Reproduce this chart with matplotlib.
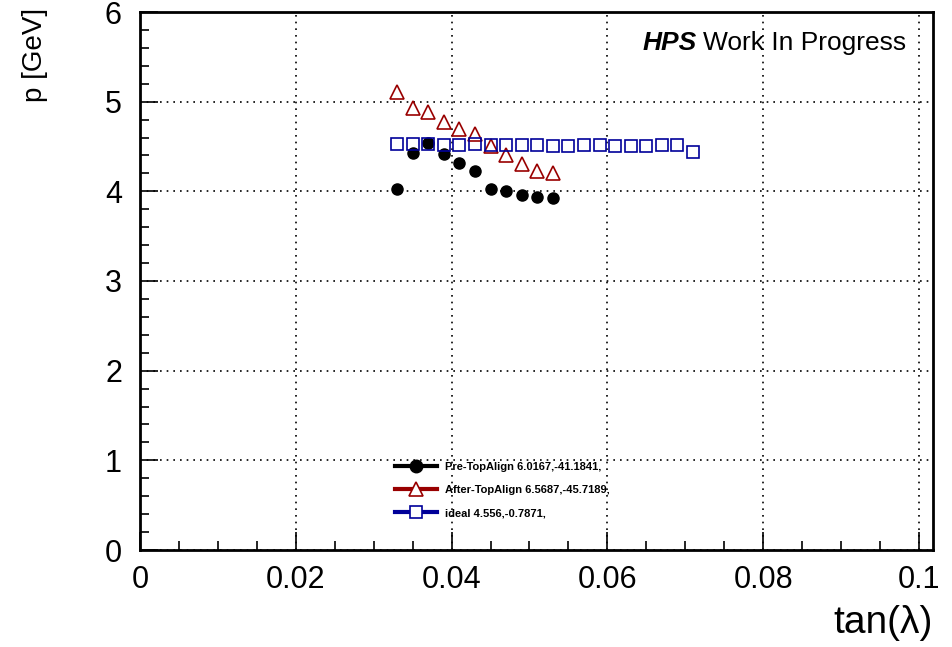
import matplotlib
matplotlib.use("Agg")
import matplotlib.pyplot as plt
from matplotlib.lines import Line2D
from matplotlib.ticker import MultipleLocator

plt.rcParams['font.family'] = ['Liberation Sans', 'DejaVu Sans']

# Data
x_pre = [0.033, 0.035, 0.037, 0.039, 0.041, 0.043, 0.045, 0.047, 0.049, 0.051, 0.053]
p_pre = [4.03, 4.43, 4.54, 4.42, 4.32, 4.23, 4.03, 4.00, 3.96, 3.94, 3.93]

x_after = [0.033, 0.035, 0.037, 0.039, 0.041, 0.043, 0.045, 0.047, 0.049, 0.051, 0.053]
p_after = [5.11, 4.93, 4.88, 4.77, 4.70, 4.64, 4.51, 4.41, 4.31, 4.23, 4.20]

x_ideal = [0.033, 0.035, 0.037, 0.039, 0.041, 0.043, 0.045, 0.047, 0.049, 0.051,
           0.053, 0.055, 0.057, 0.059, 0.061, 0.063, 0.065, 0.067, 0.069, 0.071]
p_ideal = [4.53, 4.53, 4.53, 4.52, 4.52, 4.53, 4.52, 4.52, 4.52, 4.52,
           4.51, 4.51, 4.52, 4.52, 4.51, 4.51, 4.51, 4.52, 4.52, 4.44]

labels = ["Pre-TopAlign 6.0167,-41.1841,",
          "After-TopAlign 6.5687,-45.7189,",
          "ideal 4.556,-0.7871,"]

x_ticks = [0, 0.02, 0.04, 0.06, 0.08, 0.1]
x_ticklabels = ["0", "0.02", "0.04", "0.06", "0.08", "0.1"]
y_ticks = [0, 1, 2, 3, 4, 5, 6]
y_ticklabels = ["0", "1", "2", "3", "4", "5", "6"]

c_pre = "black"
c_after = "#990000"
c_ideal = "#000099"

fig = plt.figure(figsize=(9.52, 6.47), dpi=100)
ax = fig.add_axes([140/952, 1-550/647, (933-140)/952, (550-12)/647])

ax.plot(x_pre, p_pre, ls='none', marker='o', ms=8, color=c_pre, zorder=3)
ax.plot(x_after, p_after, ls='none', marker='^', ms=10, mfc='none', mec=c_after, mew=1.2, zorder=3)
ax.plot(x_ideal, p_ideal, ls='none', marker='s', ms=8.5, mfc='none', mec=c_ideal, mew=1.2, zorder=3)

ax.set_xlim(0, 0.1018)
ax.set_ylim(0, 6)
ax.xaxis.set_minor_locator(MultipleLocator(0.005))
ax.yaxis.set_minor_locator(MultipleLocator(0.2))
ax.set_xticks(x_ticks)
ax.set_xticklabels(x_ticklabels)
ax.set_yticks(y_ticks)
ax.set_yticklabels(y_ticklabels)

ax.tick_params(which='both', direction='in', top=False, right=False, width=1.2)
ax.tick_params(which='major', length=13, labelsize=22)
ax.tick_params(axis='x', which='major', pad=11)
ax.tick_params(axis='y', which='major', pad=13)
ax.tick_params(which='minor', length=6.5)
for s in ax.spines.values():
    s.set_linewidth(2)

ax.grid(True, which='major', ls=(0, (1, 3)), color='black', lw=1.2)

t_hps = fig.text(643/952, 1-43/647, "HPS", ha='left', va='center', fontsize=19,
                 fontweight='bold', fontstyle='italic')
fig.canvas.draw()
bb = t_hps.get_window_extent()
fig.text((bb.x1 + 6)/952, 1-43/647, "Work In Progress", ha='left', va='center', fontsize=19)

fig.text(35/952, 1-8/647, "p [GeV]", rotation=90, ha='center', va='top', fontsize=20)
fig.text(933/952, 1-623/647, "tan(\u03bb)", ha='right', va='center', fontsize=28)

handles = [
    Line2D([], [], color=c_pre, lw=3, marker='o', ms=9),
    Line2D([], [], color=c_after, lw=3, marker='^', ms=10, mfc='white', mec=c_after, mew=1.2),
    Line2D([], [], color=c_ideal, lw=3, marker='s', ms=9, mfc='white', mec=c_ideal, mew=1.2),
]
leg = fig.legend(handles, labels, loc='upper left', bbox_to_anchor=(389/952, 1-456/647),
                 frameon=False, prop={'size': 8, 'weight': 'bold'},
                 handlelength=3.8, handletextpad=0.7, labelspacing=1.2, borderpad=0)

fig.savefig("out.png", dpi=100)
